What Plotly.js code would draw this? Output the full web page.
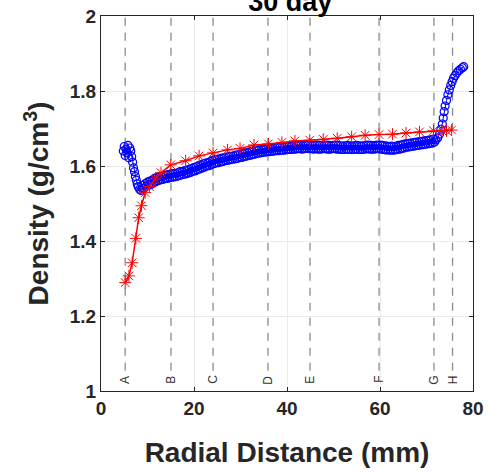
<!DOCTYPE html>
<html>
<head>
<meta charset="utf-8">
<script src="https://cdn.plot.ly/plotly-3.0.1.min.js"></script>
<style>html,body{margin:0;padding:0;background:#fff;}#chart{width:488px;height:472px;}</style>
</head>
<body>
<div id="chart"></div>
<script>
// Measured (blue, circles)
const measX = [4.8,5.0,5.2,5.4,5.6,5.8,6.0,6.2,6.4,6.6,6.8,7.0,7.2,7.4,7.6,7.8,8.0,8.3,8.6,8.9,
9.0,9.25,9.5,9.75,10.0,10.25,10.5,10.75,11.0,11.25,11.5,11.75,
12.0,12.25,12.5,12.75,13.0,13.25,13.5,13.75,14.0,14.25,14.5,14.75,15.0,15.25,15.5,15.75,
16.0,16.25,16.5,16.75,17.0,17.25,17.5,17.75,18.0,18.25,18.5,18.75,19.0,19.25,19.5,19.75,
20.0,20.25,20.5,20.75,21.0,21.25,21.5,21.75,22.0,22.25,22.5,22.75,23.0,23.25,23.5,23.75,
24.0,24.25,24.5,24.75,25.0,25.25,25.5,25.75,26.0,26.25,26.5,26.75,27.0,27.25,27.5,27.75,28.0,28.25,28.5,28.75,29.0,29.25,29.5,29.75,
30.0,30.25,30.5,30.75,31.0,31.25,31.5,31.75,32.0,32.25,32.5,32.75,33.0,33.25,33.5,33.75,34.0,34.25,34.5,34.75,35.0,35.25,35.5,35.75,
36.0,36.25,36.5,36.75,37.0,37.25,37.5,37.75,38.0,38.25,38.5,38.75,39.0,39.25,39.5,39.75,40.0,40.25,40.5,40.75,41.0,41.25,41.5,41.75,42.0,42.25,42.5,42.75,43.0,43.25,43.5,43.75,44.0,44.25,44.5,44.75,
45.0,45.25,45.5,45.75,46.0,46.25,46.5,46.75,47.0,47.25,47.5,47.75,48.0,48.25,48.5,48.75,49.0,49.25,49.5,49.75,50.0,50.25,50.5,50.75,51.0,51.25,51.5,51.75,52.0,52.25,52.5,52.75,53.0,53.25,53.5,53.75,54.0,54.25,54.5,54.75,
55.0,55.25,55.5,55.75,56.0,56.25,56.5,56.75,57.0,57.25,57.5,57.75,58.0,58.25,58.5,58.75,59.0,59.25,59.5,59.75,60.0,60.25,60.5,60.75,61.0,61.25,61.5,61.75,62.0,62.25,62.5,62.75,63.0,63.25,63.5,63.75,
64.0,64.25,64.5,64.75,65.0,65.25,65.5,65.75,66.0,66.25,66.5,66.75,67.0,67.25,67.5,67.75,68.0,68.25,68.5,68.75,69.0,69.25,69.5,69.75,70.0,70.25,70.5,70.75,71.0,71.25,71.5,71.75,
72.0,72.4,72.8,73.1,73.4,73.6,73.8,74.0,74.3,74.6,74.9,75.2,75.5,75.8,76.1,76.5,76.9,77.3,77.7,78.0];
const measY = [1.640,1.652,1.628,1.645,1.635,1.655,1.622,1.648,1.640,1.625,1.610,1.595,1.585,1.572,1.562,1.552,1.545,1.538,1.535,1.540,
1.548,1.541,1.553,1.546,1.557,1.549,1.560,1.551,1.562,1.555,1.567,1.558,
1.569,1.561,1.571,1.563,1.572,1.564,1.574,1.566,1.576,1.567,1.577,1.569,1.579,1.570,1.580,1.571,
1.580,1.572,1.582,1.574,1.585,1.576,1.585,1.578,1.588,1.579,1.589,1.581,1.591,1.583,1.594,1.586,
1.596,1.587,1.598,1.590,1.601,1.592,1.603,1.595,1.606,1.597,1.608,1.600,1.609,1.601,1.612,1.604,
1.615,1.606,1.617,1.608,1.618,1.609,1.619,1.611,1.621,1.612,1.622,1.614,1.624,1.615,1.625,1.617,1.626,1.618,1.627,1.619,1.629,1.620,1.630,1.622,
1.632,1.623,1.633,1.625,1.635,1.626,1.636,1.628,1.638,1.629,1.639,1.631,1.641,1.632,1.642,1.634,1.643,1.635,1.644,1.636,1.645,1.637,1.646,1.638,
1.647,1.638,1.647,1.639,1.648,1.640,1.649,1.641,1.650,1.641,1.650,1.642,1.651,1.642,1.651,1.643,1.652,1.644,1.653,1.644,1.653,1.645,1.654,1.645,1.654,1.646,1.655,1.646,1.655,1.645,1.654,1.646,1.655,1.647,1.656,1.646,
1.655,1.646,1.654,1.645,1.655,1.646,1.656,1.645,1.655,1.645,1.654,1.646,1.655,1.646,1.656,1.645,1.655,1.645,1.654,1.646,1.655,1.646,1.656,1.645,1.655,1.645,1.654,1.644,1.653,1.644,1.654,1.645,1.655,1.644,1.654,1.644,1.653,1.644,1.654,1.645,
1.655,1.644,1.654,1.644,1.653,1.644,1.654,1.645,1.655,1.646,1.656,1.645,1.655,1.645,1.654,1.645,1.655,1.646,1.656,1.646,1.656,1.645,1.655,1.644,1.654,1.643,1.653,1.643,1.652,1.642,1.653,1.642,1.652,1.643,1.653,1.644,
1.655,1.645,1.656,1.647,1.658,1.648,1.659,1.650,1.660,1.651,1.661,1.652,1.662,1.653,1.663,1.654,1.664,1.655,1.665,1.656,1.666,1.657,1.667,1.658,1.668,1.659,1.669,1.660,1.670,1.661,1.672,1.664,
1.670,1.675,1.685,1.698,1.712,1.728,1.745,1.760,1.775,1.790,1.803,1.815,1.825,1.834,1.841,1.848,1.854,1.858,1.862,1.865];

// Model (red, asterisks)
const modelX = [5.2,6.0,6.7,7.5,8.1,8.7,9.5,10.4,11.6,12.9,15.0,18.2,21.1,24.1,27.2,29.9,32.9,36.0,38.9,41.7,44.9,47.8,50.8,53.9,56.8,59.8,62.7,65.6,68.5,71.5,73.3,74.3,75.4];
const modelY = [1.289,1.307,1.342,1.407,1.462,1.494,1.529,1.545,1.565,1.582,1.603,1.614,1.627,1.635,1.643,1.647,1.656,1.659,1.663,1.667,1.669,1.671,1.674,1.678,1.682,1.684,1.685,1.688,1.691,1.694,1.694,1.694,1.696];

// Reference lines
const refLabels = ['A','B','C','D','E','F','G','H'];
const refX = [5.2,15.05,24.1,35.9,44.95,59.8,71.6,75.6];

const titleText = '30 day';
const xTitle = 'Radial Distance (mm)';
const yTitle = 'Density (g/cm<sup>3</sup>)';
const xTicks = [0,20,40,60,80];
const yTicks = [1,1.2,1.4,1.6,1.8,2];

const font = 'Liberation Sans, Arial, sans-serif';

const shapes = refX.map(x => ({
  type:'line', xref:'x', yref:'y', x0:x, x1:x, y0:1.054, y1:2,
  line:{color:'#8c8c8c', width:1.3, dash:'8px,7px'}, layer:'below'
}));
const annotations = refX.map((x,i) => ({
  x:x, y:1.03, xref:'x', yref:'y', text:refLabels[i], showarrow:false,
  textangle:-90, font:{family:font, size:12, color:'#333'}, xanchor:'center', yanchor:'middle'
}));

const traces = [
  {x:measX, y:measY, type:'scatter', mode:'lines+markers',
   line:{color:'#0000ff', width:1},
   marker:{symbol:'circle-open', size:8, color:'#0000ff', line:{color:'#0000ff', width:1.2}}},
  {x:modelX, y:modelY, type:'scatter', mode:'lines+markers',
   line:{color:'#ff0000', width:1.5},
   marker:{symbol:'asterisk-open', size:10, color:'#ff0000', line:{color:'#ff0000', width:1}}}
];

const axisCommon = {
  showgrid:true, gridcolor:'#ebebeb', gridwidth:1,
  zeroline:false, showline:true, linecolor:'#262626', linewidth:1,
  mirror:'ticks', ticks:'inside', ticklen:4, tickcolor:'#262626',
  tickfont:{family:font, size:19, color:'#262626', weight:'bold'}
};

const layout = {
  width:488, height:472,
  margin:{l:101, r:15, t:16, b:81},
  paper_bgcolor:'#fff', plot_bgcolor:'#fff',
  showlegend:false,
  title:{text:'<b>'+titleText+'</b>', font:{family:font, size:27, color:'#000'},
         x:0.595, xanchor:'center', yref:'container', y:0.977, yanchor:'bottom'},
  xaxis:Object.assign({}, axisCommon, {
    range:[0,80], tickvals:xTicks, ticktext:xTicks.map(String),
    title:{text:'<b>'+xTitle+'</b>', font:{family:font, size:28, color:'#262626'}, standoff:24}
  }),
  yaxis:Object.assign({}, axisCommon, {
    range:[1,2], tickvals:yTicks, ticktext:yTicks.map(v=>String(v)),
    title:{text:'<b>'+yTitle+'</b>', font:{family:font, size:28, color:'#262626'}, standoff:12}
  }),
  shapes:shapes,
  annotations:annotations
};

Plotly.newPlot('chart', traces, layout, {displayModeBar:false, staticPlot:true});
</script>
</body>
</html>
